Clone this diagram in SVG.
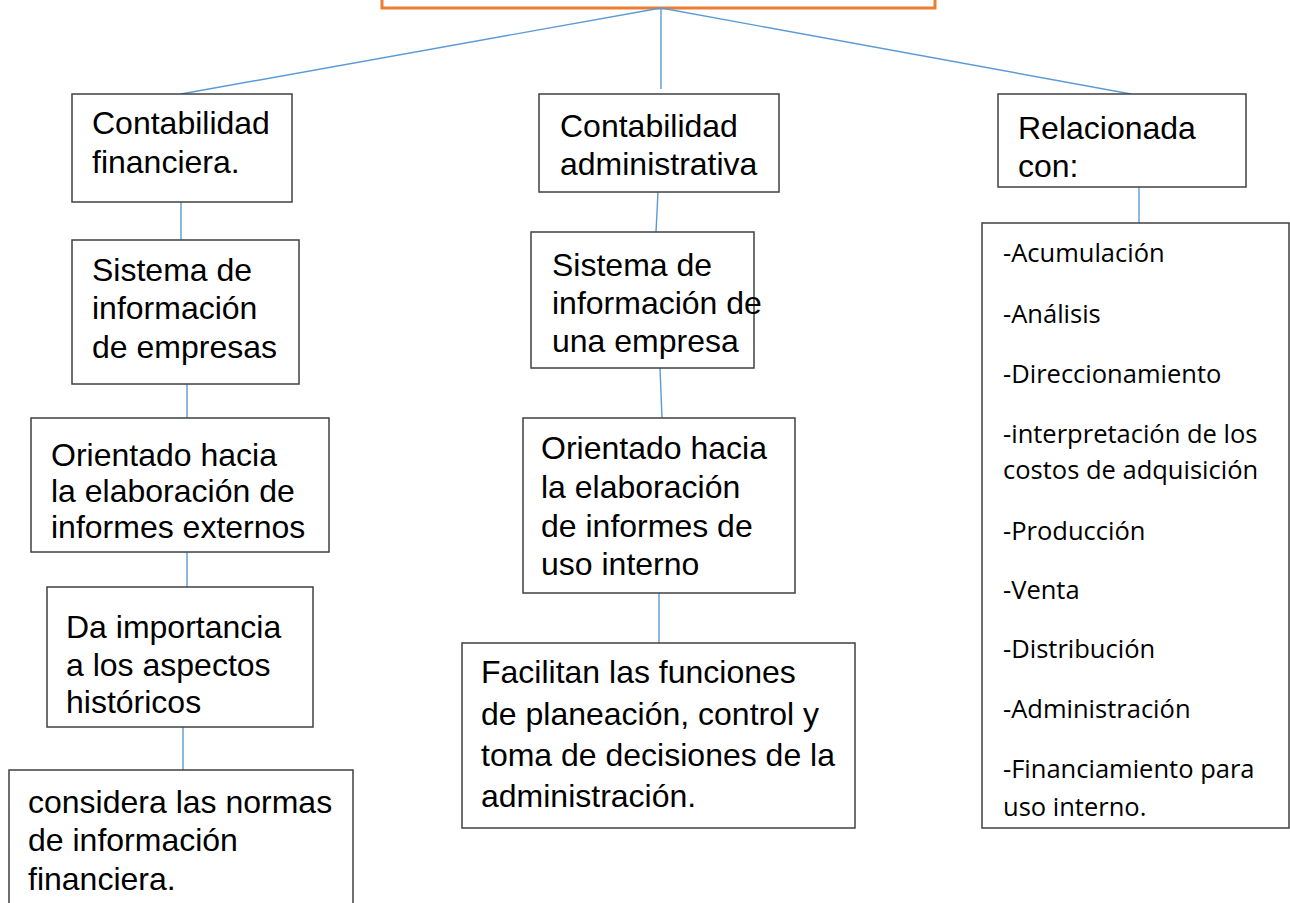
<svg xmlns="http://www.w3.org/2000/svg" width="1290" height="903" viewBox="0 0 1290 903">
<style>
.box{fill:#fff;stroke:#404040;stroke-width:1.5}
.top{fill:#fff;stroke:#ED7D31;stroke-width:3}
.t{font-family:"Liberation Sans",Arial,sans-serif;font-size:32px;fill:#000}
.c{font-family:"Open Sans","Noto Sans",sans-serif;font-size:25.5px;fill:#000}
.con line{stroke:#5B9BD5;stroke-width:1.4}
</style>
<rect width="1290" height="903" fill="#fff"/>
<g id="root"><rect class="top" x="382" y="-60" width="553" height="68"/></g>
<g id="connectors" class="con">
<line x1="661" y1="8" x2="181" y2="94"/>
<line x1="661" y1="8" x2="661" y2="89"/>
<line x1="661" y1="8" x2="1131" y2="94"/>
<line x1="181" y1="202" x2="181" y2="240"/>
<line x1="187" y1="384" x2="187" y2="418"/>
<line x1="187" y1="552" x2="187" y2="587"/>
<line x1="183" y1="727" x2="183" y2="770"/>
<line x1="658" y1="192" x2="656" y2="232"/>
<line x1="660" y1="368" x2="662" y2="418"/>
<line x1="659" y1="593" x2="659" y2="643"/>
<line x1="1139" y1="187" x2="1139" y2="223"/>
</g>
<g id="n1"><rect class="box" x="72" y="94" width="220" height="108"/>
<text class="t" x="92" y="134">Contabilidad</text><text class="t" x="92" y="173">financiera.</text></g>
<g id="n2"><rect class="box" x="72" y="240" width="227" height="144"/>
<text class="t" x="92" y="281">Sistema de</text><text class="t" x="92" y="319">información</text><text class="t" x="92" y="358">de empresas</text></g>
<g id="n3"><rect class="box" x="31" y="418" width="298" height="134"/>
<text class="t" x="51" y="466">Orientado hacia</text><text class="t" x="51" y="502">la elaboración de</text><text class="t" x="51" y="538">informes externos</text></g>
<g id="n4"><rect class="box" x="47" y="587" width="266" height="140"/>
<text class="t" x="66" y="638">Da importancia</text><text class="t" x="66" y="676">a los aspectos</text><text class="t" x="66" y="713">históricos</text></g>
<g id="n5"><rect class="box" x="9" y="770" width="344" height="150"/>
<text class="t" x="28" y="813">considera las normas</text><text class="t" x="28" y="851">de información</text><text class="t" x="28" y="890">financiera.</text></g>
<g id="m1"><rect class="box" x="539" y="94" width="240" height="98"/>
<text class="t" x="560" y="137">Contabilidad</text><text class="t" x="560" y="175">administrativa</text></g>
<g id="m2"><rect class="box" x="531" y="232" width="223" height="136"/>
<text class="t" x="552" y="276">Sistema de</text><text class="t" x="552" y="314">información de</text><text class="t" x="552" y="352">una empresa</text></g>
<g id="m3"><rect class="box" x="523" y="418" width="272" height="175"/>
<text class="t" x="541" y="459">Orientado hacia</text><text class="t" x="541" y="498">la elaboración</text><text class="t" x="541" y="537">de informes de</text><text class="t" x="541" y="575">uso interno</text></g>
<g id="m4"><rect class="box" x="462" y="643" width="393" height="185"/>
<text class="t" x="481" y="683">Facilitan las funciones</text><text class="t" x="481" y="725">de planeación, control y</text><text class="t" x="481" y="766">toma de decisiones de la</text><text class="t" x="481" y="807">administración.</text></g>
<g id="r1"><rect class="box" x="998" y="94" width="248" height="93"/>
<text class="t" x="1018" y="139">Relacionada</text><text class="t" x="1018" y="177">con:</text></g>
<g id="r2"><rect class="box" x="982" y="223" width="307" height="605"/>
<text class="c" x="1003" y="262">-Acumulación</text>
<text class="c" x="1003" y="323">-Análisis</text>
<text class="c" x="1003" y="383">-Direccionamiento</text>
<text class="c" x="1003" y="443">-interpretación de los</text>
<text class="c" x="1003" y="479">costos de adquisición</text>
<text class="c" x="1003" y="540">-Producción</text>
<text class="c" x="1003" y="599">-Venta</text>
<text class="c" x="1003" y="658">-Distribución</text>
<text class="c" x="1003" y="718">-Administración</text>
<text class="c" x="1003" y="778">-Financiamiento para</text>
<text class="c" x="1003" y="816">uso interno.</text></g>
</svg>
